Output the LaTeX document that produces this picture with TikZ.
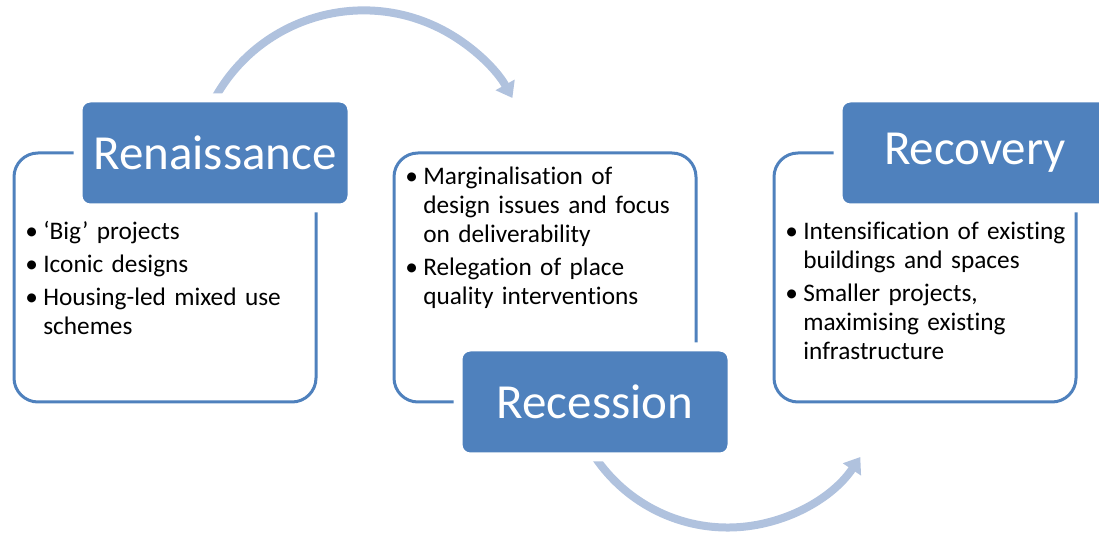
\documentclass[tikz,border=0pt]{standalone}
\usepackage{fontspec}
\setmainfont{Carlito}[Ligatures=NoCommon]
\usepackage{tikz}
\usetikzlibrary{shapes,arrows.meta,positioning}

\definecolor{headblue}{RGB}{79,129,189}
\definecolor{arcblue}{RGB}{176,194,222}
\newcommand{\bitem}[1]{\par\hangindent=18pt\hangafter=1\noindent\makebox[18pt][l]{\textbullet}\strut#1\par}
\pgfdeclarelayer{background}
\pgfsetlayers{background,main}

\begin{document}
\begin{tikzpicture}[x=1pt,y=1pt,node distance=380pt,semithick]
\tikzstyle{box}=[draw=headblue,line width=3pt,outer sep=0pt,rounded corners=24pt,minimum width=302pt,minimum height=249pt]
\tikzstyle{head}=[fill=headblue,draw=white,line width=9pt,outer sep=0pt,rounded corners=12pt,minimum width=274pt,minimum height=110pt,text=white,font=\fontsize{49}{52}\selectfont]
\tikzstyle{body}=[anchor=north west,inner sep=0pt,text width=295pt,align=left,font=\fontsize{25.3}{29}\selectfont]
\tikzstyle{cyc}=[draw=arcblue,line width=8pt,-{Triangle[width=21pt,length=15pt]}]
\useasboundingbox (0,0) rectangle (1099,535);

\node[box] (ren) at (165,257.5) {};
\node[box,right of=ren] (rec) {};
\node[box,right of=rec] (rcv) {};

\node[head] (renh) at ([xshift=-101pt]ren.north east) {Renaissance};
\node[head] (rech) at ([xshift=-101pt]rec.south east) {Recession};
\node[head] (rcvh) at ([xshift=-101pt]rcv.north east) {Recovery};

\node[body] (rent) at ([xshift=11pt,yshift=-53pt]ren.north west) {\setlength{\parskip}{4pt}%
\bitem{‘Big’ projects}
\bitem{Iconic designs}
\bitem{Housing-led mixed use\newline schemes}};
\node[body] (rect) at ([xshift=11pt,yshift=2pt]rec.north west) {\setlength{\parskip}{4pt}%
\bitem{Marginalisation of\newline design issues and focus\newline on deliverability}
\bitem{Relegation of place\newline quality interventions}};
\node[body] (rcvt) at ([xshift=11pt,yshift=-53pt]rcv.north west) {\setlength{\parskip}{4pt}%
\bitem{Intensification of existing\newline buildings and spaces}
\bitem{Smaller projects,\newline maximising existing\newline infrastructure}};

% the cycle arrows sit under the headers
\begin{pgfonlayer}{background}
\draw[cyc] (renh.north) arc[start angle=151,end angle=29,radius=170pt];
\draw[cyc] (rech.south) arc[start angle=214,end angle=326,radius=160pt];
\end{pgfonlayer}
\end{tikzpicture}
\end{document}
